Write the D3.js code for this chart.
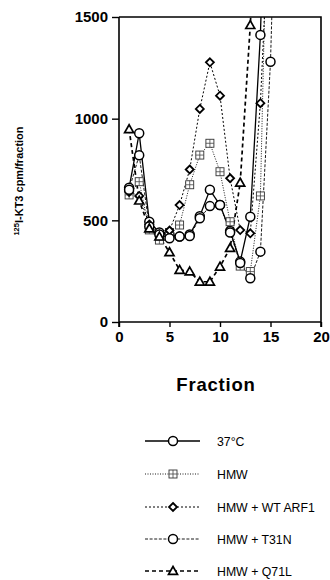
<!DOCTYPE html>
<html><head><meta charset="utf-8">
<script src="https://cdn.jsdelivr.net/npm/d3@7/dist/d3.min.js"></script>
<style>body{margin:0;background:#fff}svg{display:block}</style>
</head><body>
<svg id="c" width="330" height="580"></svg>
<script>
const seriesNames = ["37°C","HMW","HMW + WT ARF1","HMW + T31N","HMW + Q71L"];
const fractions = [1,2,3,4,5,6,7,8,9,10,11,12,13,14,15,16];
const v37 = [660,928,493,440,430,420,430,520,650,575,448,297,518,1412,3000,null];
const vHMW = [625,690,453,403,440,477,675,821,879,739,493,275,248,620,2800,null];
const vWT = [640,620,480,430,450,575,750,1048,1277,1113,707,452,436,1076,2150,null];
const vT31N = [650,820,470,430,412,420,423,510,570,575,440,290,215,346,1280,3000];
const vQ71L = [948,597,460,420,343,256,248,198,198,272,364,685,1460,2500,null,null];
const xTicks = [0,5,10,15,20];
const yTicks = [0,500,1000,1500];

const series = [
  {name:seriesNames[0], vals:v37, dash:null, w:1.3, sym:"circle"},
  {name:seriesNames[1], vals:vHMW, dash:"1,1.5", w:0.9, sym:"grid"},
  {name:seriesNames[2], vals:vWT, dash:"2,2", w:1, sym:"diamond"},
  {name:seriesNames[3], vals:vT31N, dash:"3,1.6", w:0.9, sym:"circle"},
  {name:seriesNames[4], vals:vQ71L, dash:"4,3", w:1.7, sym:"triangle"}
];

const svg = d3.select("#c");
const x = d3.scaleLinear().domain([0,20]).range([119,321]);
const y = d3.scaleLinear().domain([0,1500]).range([322,17]);

svg.append("defs").append("clipPath").attr("id","pc")
  .append("rect").attr("x",x(0)).attr("y",y(1500)).attr("width",x(20)-x(0)).attr("height",y(0)-y(1500));

const font = "'Liberation Sans', Arial, sans-serif";
const xa = svg.append("g").attr("transform",`translate(0,${y(0)})`)
  .call(d3.axisBottom(x).tickValues(xTicks).tickSize(5).tickPadding(4).tickFormat(d3.format("d")));
xa.select(".domain").attr("stroke-width",1.6).attr("d",`M${x(0)},0H${x(20)}`);
xa.selectAll(".tick line").attr("stroke-width",1.4);
xa.selectAll("text").attr("font-family",font).attr("font-weight","bold").attr("font-size",15).attr("fill","#000");

const ya = svg.append("g").attr("transform",`translate(${x(0)},0)`)
  .call(d3.axisLeft(y).tickValues(yTicks).tickSize(7).tickPadding(4).tickFormat(d3.format("d")));
ya.select(".domain").attr("stroke-width",1.6).attr("d",`M0,${y(1500)}V${y(0)+5}`);
ya.selectAll(".tick line").attr("stroke-width",1.4);
ya.selectAll("text").attr("font-family",font).attr("font-weight","bold").attr("font-size",15).attr("fill","#000");

svg.append("path").attr("d",`M${x(0)},${y(1500)}H${x(20)}V${y(0)+5}`)
  .attr("fill","none").attr("stroke","#000").attr("stroke-width",1.6);

svg.append("text").attr("x",216).attr("y",391).attr("text-anchor","middle")
  .attr("font-family",font).attr("font-weight","bold").attr("font-size",18.5).attr("letter-spacing",0.8)
  .text("Fraction");
const yl = svg.append("text").attr("transform","translate(23,181) rotate(-90)").attr("text-anchor","middle")
  .attr("font-family",font).attr("font-weight","bold").attr("font-size",11);
yl.append("tspan").attr("font-size",7.5).attr("dy",-4).text("125");
yl.append("tspan").attr("dy",4).text("I-KT3 cpm/fraction");

function drawSym(g, sym, cx, cy){
  if(sym==="circle"){
    g.append("circle").attr("cx",cx).attr("cy",cy).attr("r",4.5)
      .attr("fill","#fff").attr("stroke","#000").attr("stroke-width",1.5);
  } else if(sym==="grid"){
    const s=4;
    g.append("rect").attr("x",cx-s).attr("y",cy-s).attr("width",2*s).attr("height",2*s)
      .attr("fill","#fff").attr("stroke","#333").attr("stroke-width",0.9);
    g.append("path").attr("d",`M${cx-s},${cy}H${cx+s}M${cx},${cy-s}V${cy+s}`)
      .attr("stroke","#444").attr("stroke-width",0.8);
  } else if(sym==="diamond"){
    const s=4;
    g.append("path").attr("d",`M${cx},${cy-s}L${cx+s},${cy}L${cx},${cy+s}L${cx-s},${cy}Z`)
      .attr("fill","#fff").attr("stroke","#000").attr("stroke-width",1.8);
  } else if(sym==="triangle"){
    const s=4.5;
    g.append("path").attr("d",`M${cx},${cy-s}L${cx+s},${cy+s*0.75}L${cx-s},${cy+s*0.75}Z`)
      .attr("fill","#fff").attr("stroke","#000").attr("stroke-width",1.7);
  }
}

const plot = svg.append("g").attr("clip-path","url(#pc)");
const line = d3.line().defined(d=>d[1]!=null).x(d=>x(d[0])).y(d=>y(d[1]));
series.forEach(s=>{
  const pts = fractions.map((f,i)=>[f,s.vals[i]]);
  plot.append("path").attr("d",line(pts)).attr("fill","none").attr("stroke","#000")
    .attr("stroke-width",s.w).attr("stroke-dasharray",s.dash);
});
series.forEach(s=>{
  const g = plot.append("g");
  fractions.forEach((f,i)=>{
    const v=s.vals[i];
    if(v!=null && v<=1500) drawSym(g,s.sym,x(f),y(v));
  });
});

const ly = [441,474,507,539,571];
series.forEach((s,i)=>{
  const g = svg.append("g");
  g.append("line").attr("x1",145).attr("x2",200).attr("y1",ly[i]).attr("y2",ly[i])
    .attr("stroke","#000").attr("stroke-width",s.w).attr("stroke-dasharray",s.dash);
  drawSym(g,s.sym,173,ly[i]);
  g.append("text").attr("x",217).attr("y",ly[i]+4.5).attr("font-family",font)
    .attr("font-size",12.3).text(s.name);
});
</script>
</body></html>
